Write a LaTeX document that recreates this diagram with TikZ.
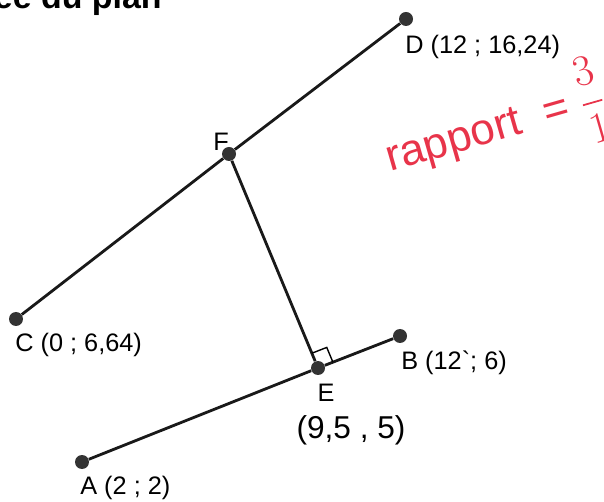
\documentclass[tikz,border=0pt]{standalone}
\usepackage{amsmath}
\usepackage{fontspec}
\setmainfont{Liberation Sans}
\usetikzlibrary{calc}
\definecolor{notered}{HTML}{E8344A}

\begin{document}
\begin{tikzpicture}[
    x=0.02cm, y=-0.02cm,
    seg/.style   = {line width=1.6pt, draw=black!90},
    pt/.style    = {circle, fill=black!80, inner sep=0pt, minimum size=0.28cm},
    lbl/.style   = {font=\fontsize{14.4}{16}\selectfont, inner sep=0pt},
    hand/.style  = {font=\fontsize{18}{20}\selectfont, inner sep=0pt},
    note/.style  = {text=notered, font=\fontsize{25}{28}\selectfont, inner sep=0pt}
]

% Page frame
\clip (0,0) rectangle (604,502);

% Heading, cut at the top edge
\node[font=\bfseries\fontsize{19.3}{22}\selectfont, anchor=base east, inner sep=0pt] (title) at (162,9) {ée du plan};

% Points
\node[pt] (A) at (82,462)  {};
\node[pt] (B) at (400,336) {};
\node[pt] (C) at (16,319)  {};
\node[pt] (D) at (406,19)  {};
\node[pt] (E) at (318,368) {};
\node[pt] (F) at (229,154) {};

% Segments
\draw[seg] (C) -- (F) -- (D);
\draw[seg] (A) -- (E) -- (B);
\draw[seg] (F) -- (E);

% Right angle at E
\coordinate (eF) at ($(E)!0.32cm!(F)$);
\coordinate (eB) at ($(E)!0.32cm!(B)$);
\draw[line width=0.8pt] (eF) -- ($(eF)+(eB)-(E)$) -- (eB);

% Labels
\node[lbl, anchor=west] (Dl) at (405,47)  {D (12 ; 16,24)};
\node[lbl]              (Fl) at (221,142) {F};
\node[lbl, anchor=west] (Cl) at (15,345)  {C (0 ; 6,64)};
\node[lbl, anchor=west] (Bl) at (401,363) {B (12\textasciigrave; 6)};
\node[lbl]              (El) at (326,393) {E};
\node[lbl, anchor=west] (Al) at (80,488)  {A (2 ; 2)};

% Handwritten notes
\node[hand] (Ecoord) at (351,430) {(9,5 , 5)};
\node[note, rotate=16, anchor=base west] (ratio) at (390,172) {rapport\ \ = $\dfrac{3}{1}$};

\end{tikzpicture}
\end{document}
